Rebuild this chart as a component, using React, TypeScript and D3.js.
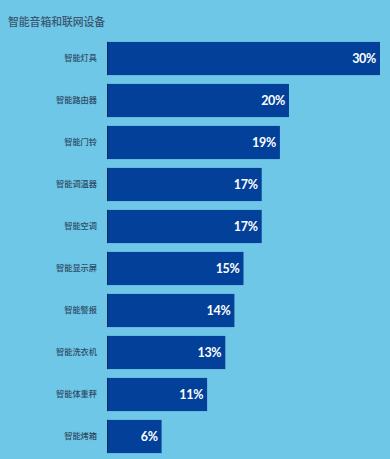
import { scaleBand, scaleLinear } from "d3";

const categories = [
    "智能灯具",
    "智能路由器",
    "智能门铃",
    "智能调温器",
    "智能空调",
    "智能显示屏",
    "智能警报",
    "智能洗衣机",
    "智能体重秤",
    "智能烤箱",
];
const values = [30, 20, 19, 17, 17, 15, 14, 13, 11, 6];
const title = "智能音箱和联网设备";

const width = 390;
const height = 459;
const left = 107;

export default function App() {
    const scaleX = scaleLinear().domain([0, 30]).range([0, 273]);
    const scaleY = scaleBand()
        .domain(categories)
        .range([37.5, 457.5])
        .paddingInner(0.21)
        .paddingOuter(0.105);

    return (
        <svg
            width={width}
            height={height}
            style={{ position: "absolute", left: 0, top: 0, display: "block" }}
        >
            <rect width={width} height={height} fill="#6ec7e6" />
            <text
                x={8}
                y={26}
                fontSize={10.8}
                fontWeight={500}
                fill="#3a5670"
                fontFamily="'Noto Sans CJK SC', sans-serif"
            >
                {title}
            </text>
            {categories.map((c, i) => {
                const y = scaleY(c) ?? 0;
                const h = scaleY.bandwidth();
                const w = scaleX(values[i]);
                return (
                    <g key={c}>
                        <text
                            x={97}
                            y={y + h / 2}
                            dy="0.35em"
                            textAnchor="end"
                            fontSize={8.2}
                            fontWeight={500}
                            fill="#2d4b66"
                            fontFamily="'Noto Sans CJK SC', sans-serif"
                        >
                            {c}
                        </text>
                        <rect x={left} y={y} width={w} height={h} fill="#02409a" />
                        <rect x={left} y={y} width={1} height={h} fill="#0b2a5e" />
                        <text
                            x={left + w - 4}
                            y={y + h / 2}
                            dy="0.36em"
                            textAnchor="end"
                            fontSize={12.5}
                            fontWeight="bold"
                            fill="#ffffff"
                            fontFamily="Lato, 'Open Sans', sans-serif"
                            letterSpacing={-0.3}
                        >
                            {values[i]}%
                        </text>
                    </g>
                );
            })}
        </svg>
    );
}
